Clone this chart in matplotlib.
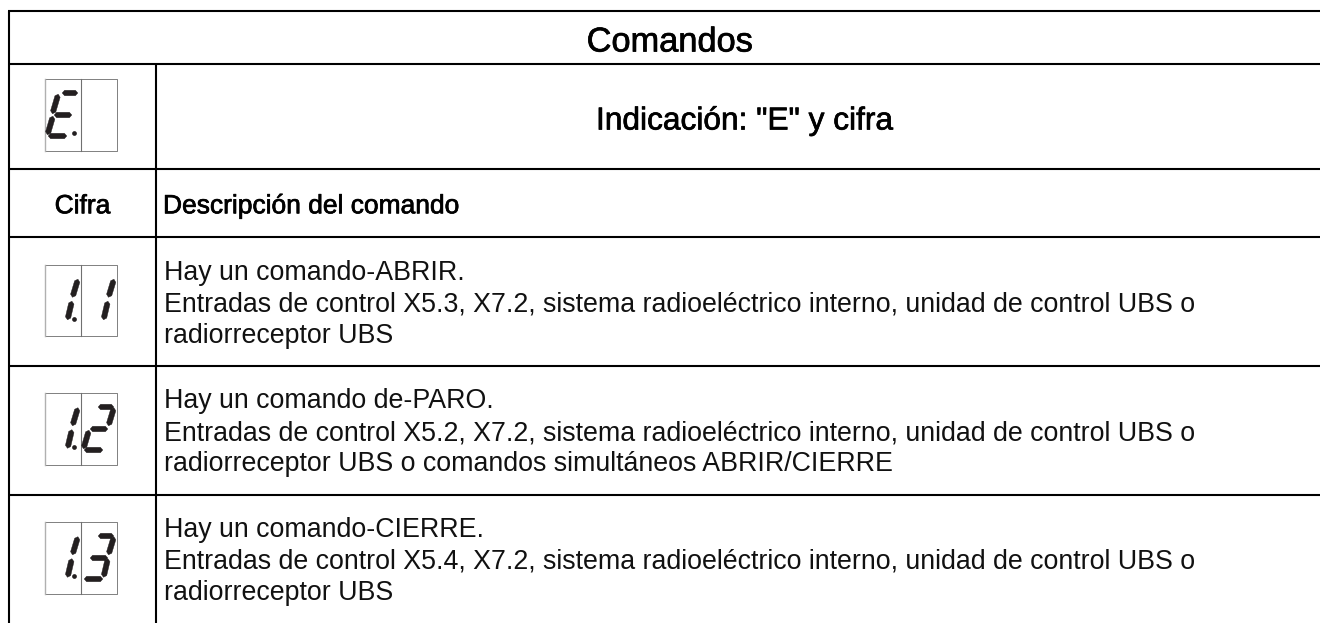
import matplotlib
matplotlib.use("Agg")
import matplotlib.pyplot as plt
import matplotlib.patheffects as pe
from matplotlib.patches import Polygon

w = 1320
h = 623
dpi = 100

plt.rcParams['font.family'] = ['Liberation Sans', 'DejaVu Sans']

title = "Comandos"
indication = 'Indicación: "E" y cifra'
col_heads = ["Cifra", "Descripción del comando"]
row_texts = [
    ["Hay un comando-ABRIR.",
     "Entradas de control X5.3, X7.2, sistema radioeléctrico interno, unidad de control UBS o",
     "radiorreceptor UBS"],
    ["Hay un comando de-PARO.",
     "Entradas de control X5.2, X7.2, sistema radioeléctrico interno, unidad de control UBS o",
     "radiorreceptor UBS o comandos simultáneos ABRIR/CIERRE"],
    ["Hay un comando-CIERRE.",
     "Entradas de control X5.4, X7.2, sistema radioeléctrico interno, unidad de control UBS o",
     "radiorreceptor UBS"],
]
row_digits = [("1", "1"), ("1", "2"), ("1", "3")]

# table rules, in pixels
h_rules = [11, 63.5, 168.5, 236.5, 365.5, 495]
left_x = 9
col_x = 155.5
display_top = [79, 264.5, 393, 522]
display_left = 45

# seven segment shapes relative to the display corner
segs = {
    'a': ((18, 14), (32, 14)),
    'g': ((10, 36), (26, 36)),
    'd': ((4, 57), (21, 57)),
    'f': ((13, 16), (7.7, 34)),
    'e': ((7.7, 38), (2.7, 55)),
    'b': ((32.7, 15.5), (27.7, 32)),
    'c': ((26.7, 37.5), (22.7, 54.5)),
}
glyphs = {
    "E": "afged",
    "1": "bc",
    "2": "abged",
    "3": "abgcd",
    "": "",
}


def draw_seg(ax, p0, p1, dx, dy, t=2.7):
    x0, y0 = p0[0] + dx, p0[1] + dy
    x1, y1 = p1[0] + dx, p1[1] + dy
    ux, uy = x1 - x0, y1 - y0
    n = (ux ** 2 + uy ** 2) ** 0.5
    ux, uy = ux / n, uy / n
    nx, ny = -uy * t, ux * t
    tip = 0.8
    inset = 1.6
    pts = [(x0 - ux * tip, y0 - uy * tip),
           (x0 + ux * inset + nx, y0 + uy * inset + ny),
           (x1 - ux * inset + nx, y1 - uy * inset + ny),
           (x1 + ux * tip, y1 + uy * tip),
           (x1 - ux * inset - nx, y1 - uy * inset - ny),
           (x0 + ux * inset - nx, y0 + uy * inset - ny)]
    ax.add_patch(Polygon(pts, closed=True, fc='#231f20', ec='#231f20', lw=0.3, zorder=3))


def draw_display(ax, top, left_d, right_d):
    x0 = display_left
    ax.plot([x0, x0 + 71.5, x0 + 71.5, x0, x0], [top, top, top + 71.5, top + 71.5, top],
            color='#808080', lw=0.7, zorder=2)
    ax.plot([x0, x0], [top, top + 71.5], color='#b0b0b0', lw=1.0, zorder=2)
    ax.plot([x0 + 35.7, x0 + 35.7], [top, top + 71.5], color='#707070', lw=0.8, zorder=2)
    for s in glyphs[left_d]:
        draw_seg(ax, *segs[s], x0, top)
    for s in glyphs[right_d]:
        draw_seg(ax, *segs[s], x0 + 36, top)
    ax.plot([x0 + 29], [top + 54], 'o', color='#231f20', ms=3.4, mew=0, zorder=3)


fig = plt.figure(figsize=(w / dpi, h / dpi), dpi=dpi)
ax = fig.add_axes([0, 0, 1, 1])
ax.set_xlim(0, w)
ax.set_ylim(h, 0)
ax.axis('off')

for y in h_rules:
    ax.plot([left_x - 1, w], [y, y], color='black', lw=1.5, solid_capstyle='butt')
ax.plot([left_x, left_x], [h_rules[0], h], color='black', lw=1.5, solid_capstyle='butt')
ax.plot([col_x, col_x], [h_rules[1], h], color='black', lw=1.5, solid_capstyle='butt')

bold = [pe.withStroke(linewidth=0.5, foreground='black')]
ax.text(670, 51.5, title, fontsize=24.75, ha='center', va='baseline', path_effects=bold)
ax.text(744.5, 129.5, indication, fontsize=22.8, ha='center', va='baseline', path_effects=bold)
ax.text(82.5, 213.3, col_heads[0], fontsize=19, ha='center', va='baseline', path_effects=bold)
ax.text(163, 213.3, col_heads[1], fontsize=19, ha='left', va='baseline', path_effects=bold)

line_y = [[280, 311.7, 343.3], [408.3, 440, 471], [536.7, 568, 600]]
for lines, ys in zip(row_texts, line_y):
    for s, y in zip(lines, ys):
        ax.text(164.5, y, s, fontsize=19.27, ha='left', va='baseline', color='#111111')

draw_display(ax, display_top[0], "E", "")
for top, (a, b) in zip(display_top[1:], row_digits):
    draw_display(ax, top, a, b)

fig.savefig("out.png", dpi=dpi)
